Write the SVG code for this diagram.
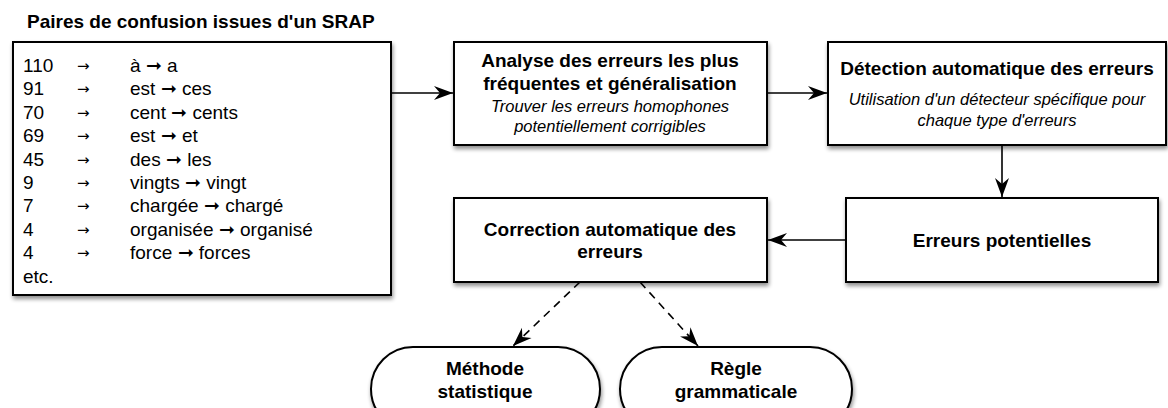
<svg xmlns="http://www.w3.org/2000/svg" width="1168" height="408" viewBox="0 0 1168 408">
<style>
.box{fill:#fff;stroke:#000;stroke-width:2;filter:url(#sh)}
.t{font-family:"Liberation Sans",Arial,sans-serif;fill:#000}
.b{font-weight:bold;font-size:19px;text-anchor:middle}
.i{font-style:italic;font-size:16.5px;text-anchor:middle}
.r{font-size:19px}
.ar{font-family:"DejaVu Sans",sans-serif;font-size:15px}
.c{stroke:#000;stroke-width:1.6;fill:none}
.d{stroke-dasharray:8,6}
</style>
<defs>
<filter id="sh" x="-10%" y="-10%" width="120%" height="130%">
<feGaussianBlur in="SourceAlpha" stdDeviation="2"/>
<feOffset dx="1" dy="3" result="o"/>
<feComponentTransfer><feFuncA type="linear" slope="0.45"/></feComponentTransfer>
<feMerge><feMergeNode/><feMergeNode in="SourceGraphic"/></feMerge>
</filter>
<marker id="ah" markerUnits="userSpaceOnUse" markerWidth="24" markerHeight="16" refX="20" refY="8" orient="auto" viewBox="0 0 24 16">
<path d="M20,8 L1,1 L7,8 L1,15 Z" fill="#000"/>
</marker>
</defs>
<text class="t" x="27" y="28" font-size="19" font-weight="bold">Paires de confusion issues d'un SRAP</text>
<g id="pairs">
<rect class="box" x="13" y="42" width="378" height="253"/>
<g class="t r">
<text x="23" y="72">110</text><text class="ar" x="77" y="71">→</text><text x="130" y="72">à ➞ a</text>
<text x="23" y="95.4">91</text><text class="ar" x="77" y="94.4">→</text><text x="130" y="95.4">est ➞ ces</text>
<text x="23" y="118.8">70</text><text class="ar" x="77" y="117.8">→</text><text x="130" y="118.8">cent ➞ cents</text>
<text x="23" y="142.2">69</text><text class="ar" x="77" y="141.2">→</text><text x="130" y="142.2">est ➞ et</text>
<text x="23" y="165.6">45</text><text class="ar" x="77" y="164.6">→</text><text x="130" y="165.6">des ➞ les</text>
<text x="23" y="189">9</text><text class="ar" x="77" y="188">→</text><text x="130" y="189">vingts ➞ vingt</text>
<text x="23" y="212.4">7</text><text class="ar" x="77" y="211.4">→</text><text x="130" y="212.4">chargée ➞ chargé</text>
<text x="23" y="235.8">4</text><text class="ar" x="77" y="234.8">→</text><text x="130" y="235.8">organisée ➞ organisé</text>
<text x="23" y="259.2">4</text><text class="ar" x="77" y="258.2">→</text><text x="130" y="259.2">force ➞ forces</text>
<text x="23" y="282.6">etc.</text>
</g>
</g>
<g id="analyse">
<rect class="box" x="454" y="42" width="313" height="103"/>
<text class="t b" x="610" y="67">Analyse des erreurs les plus</text>
<text class="t b" x="610" y="90">fréquentes et généralisation</text>
<text class="t i" x="610" y="112">Trouver les erreurs homophones</text>
<text class="t i" x="610" y="132">potentiellement corrigibles</text>
</g>
<g id="detection">
<rect class="box" x="828" y="42" width="338" height="103"/>
<text class="t b" x="997" y="75">Détection automatique des erreurs</text>
<text class="t i" x="997" y="105">Utilisation d'un détecteur spécifique pour</text>
<text class="t i" x="997" y="126">chaque type d'erreurs</text>
</g>
<g id="potentielles">
<rect class="box" x="846" y="198" width="312" height="84"/>
<text class="t b" x="1002" y="247">Erreurs potentielles</text>
</g>
<g id="correction">
<rect class="box" x="454" y="198" width="313" height="84"/>
<text class="t b" x="610" y="236">Correction automatique des</text>
<text class="t b" x="610" y="258">erreurs</text>
</g>
<g id="methode">
<rect class="box" x="371" y="347" width="229" height="84" rx="42"/>
<text class="t b" x="485" y="375">Méthode</text>
<text class="t b" x="485" y="398">statistique</text>
</g>
<g id="regle">
<rect class="box" x="620" y="347" width="232" height="84" rx="42"/>
<text class="t b" x="736" y="375">Règle</text>
<text class="t b" x="736" y="398">grammaticale</text>
</g>
<g id="connectors">
<line class="c" x1="392" y1="93" x2="453" y2="93" marker-end="url(#ah)"/>
<line class="c" x1="767" y1="93" x2="827" y2="93" marker-end="url(#ah)"/>
<line class="c" x1="1002" y1="145" x2="1002" y2="197" marker-end="url(#ah)"/>
<line class="c" x1="846" y1="240" x2="768" y2="240" marker-end="url(#ah)"/>
<line class="c d" x1="580" y1="282" x2="513" y2="346" marker-end="url(#ah)"/>
<line class="c d" x1="640" y1="282" x2="698" y2="346" marker-end="url(#ah)"/>
</g>
</svg>
